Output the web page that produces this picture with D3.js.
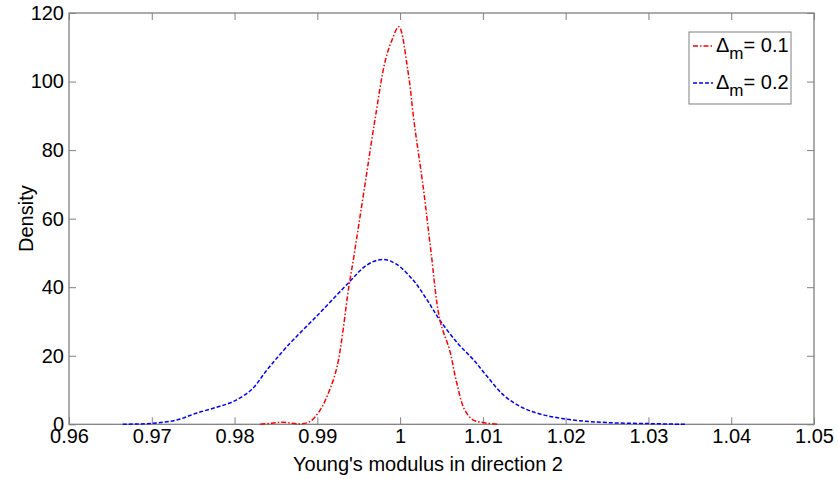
<!DOCTYPE html>
<html><head><meta charset="utf-8">
<script src="https://cdn.jsdelivr.net/npm/d3@7"></script>
<style>body{margin:0;background:#fff}svg{display:block;font-family:"Liberation Sans",Arial,sans-serif}</style>
</head><body><svg id="c" width="838" height="479"></svg>
<script>
const xTicks = [0.96,0.97,0.98,0.99,1.00,1.01,1.02,1.03,1.04,1.05];
const xTickLabels = ["0.96","0.97","0.98","0.99","1","1.01","1.02","1.03","1.04","1.05"];
const yTicks = [0,20,40,60,80,100,120];
const seriesNames = ["0.1","0.2"];
const redX = [0.9831,0.9845,0.9859,0.9870,0.9879,0.9891,0.9903,0.9914,0.9924,0.9938,0.99435,0.9948,0.99576,0.99697,0.9982,0.9990,0.99985,1.00095,1.0017,1.0028,1.0037,1.0048,1.0060,1.0068,1.0078,1.0088,1.0100,1.0118];
const redY = [0,0.3,0.6,0.3,0.1,0.8,4,9.5,17,40,48,55,70,89,106,112,116,103,88,69,51,30.5,21.5,12.5,4.2,1.3,0.5,0];
const blueX = [0.9665,0.9701,0.9730,0.97546,0.9780,0.9798,0.9820,0.9839,0.9863,0.9903,0.9939,0.9960,0.99785,0.9995,1.0016,1.0032,1.0048,1.0070,1.0088,1.0105,1.0125,1.0145,1.0169,1.0209,1.025,1.030,1.0344];
const blueY = [0,0.3,1.25,3.3,5.1,6.6,10,15.8,22.6,32.5,41.6,46.5,48.1,46.8,42,36.5,30.4,23.5,19,14,8.5,5.2,3.0,1.25,0.5,0.2,0];

const svg = d3.select("#c");
const L=69,R=814,T=13,B=424.3;
const x = d3.scaleLinear().domain([0.96,1.05]).range([L,R]);
const y = d3.scaleLinear().domain([0,120]).range([B,T]);
const axisCol="#808080", fs=20;

function styleAxis(g){
  g.selectAll(".domain").remove();
  g.selectAll(".tick line").attr("stroke",axisCol);
  g.selectAll("text").attr("fill","#000").attr("font-size",fs).attr("font-family","Liberation Sans, Arial, sans-serif");
}
svg.append("g").attr("transform",`translate(0,${B})`)
  .call(d3.axisBottom(x).tickValues(xTicks).tickFormat((d,i)=>xTickLabels[i]).tickSizeInner(-7).tickSizeOuter(0).tickPadding(5))
  .call(styleAxis);
svg.append("g").attr("transform",`translate(0,${T})`)
  .call(d3.axisTop(x).tickValues(xTicks).tickFormat("").tickSizeInner(-7).tickSizeOuter(0))
  .call(styleAxis);
svg.append("g").attr("transform",`translate(${L},0)`)
  .call(d3.axisLeft(y).tickValues(yTicks).tickSizeInner(-7).tickSizeOuter(0).tickPadding(5))
  .call(styleAxis);
svg.append("g").attr("transform",`translate(${R},0)`)
  .call(d3.axisRight(y).tickValues(yTicks).tickFormat("").tickSizeInner(-7).tickSizeOuter(0))
  .call(styleAxis);
svg.append("rect").attr("x",L).attr("y",T).attr("width",R-L).attr("height",B-T)
  .attr("fill","none").attr("stroke",axisCol).attr("stroke-width",1.3);

const line = d3.line().x(d=>x(d[0])).y(d=>y(Math.max(0,d[1]))).curve(d3.curveCatmullRom.alpha(0.5));
const red = redX.map((v,i)=>[v,redY[i]]);
const blue = blueX.map((v,i)=>[v,blueY[i]]);
svg.append("path").attr("d",line(blue)).attr("fill","none").attr("stroke","#0000ff").attr("stroke-width",1.5).attr("stroke-dasharray","4,2");
svg.append("path").attr("d",line(red)).attr("fill","none").attr("stroke","#ff0000").attr("stroke-width",1.5).attr("stroke-dasharray","5,2,1.5,2");

svg.append("text").attr("x",428).attr("y",471).attr("text-anchor","middle").attr("font-size",fs).text("Young's modulus in direction 2");
svg.append("text").attr("transform",`translate(33,${(T+B)/2}) rotate(-90)`).attr("text-anchor","middle").attr("font-size",fs).text("Density");

const lg = svg.append("g");
lg.append("rect").attr("x",689).attr("y",32).attr("width",102).attr("height",72).attr("fill","#fff").attr("stroke",axisCol).attr("stroke-width",1);
const lcol=["#ff0000","#0000ff"], ldash=["5,2,1.5,2","4,2"], ly=[46,83];
seriesNames.forEach((n,i)=>{
  lg.append("line").attr("x1",693).attr("x2",713).attr("y1",ly[i]).attr("y2",ly[i]).attr("stroke",lcol[i]).attr("stroke-width",1.5).attr("stroke-dasharray",ldash[i]);
  const t = lg.append("text").attr("x",716).attr("y",ly[i]+6).attr("font-size",fs);
  t.append("tspan").text("Δ");
  t.append("tspan").attr("dy",7).attr("font-size",17).text("m");
  t.append("tspan").attr("dy",-7).text("= "+n);
});
</script></body></html>
